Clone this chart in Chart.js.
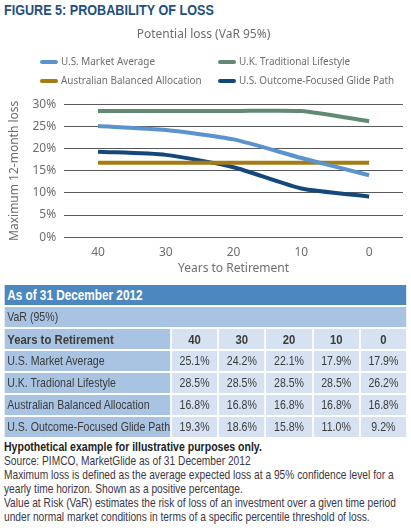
<!DOCTYPE html>
<html>
<head>
<meta charset="utf-8">
<script src="https://cdn.jsdelivr.net/npm/chart.js@4"></script>
<style>
  body { margin: 0; width: 411px; height: 532px; background: #fff; position: relative; overflow: hidden; font-family: "Liberation Sans", sans-serif; }
  .narrow { transform-origin: 0 0; }
  #title { position: absolute; left: 4px; top: 2px; font: bold 14px "Liberation Sans", sans-serif; color: #1f4f80; transform: scaleX(0.9); white-space: nowrap; }
  #chartBox { position: absolute; left: 0; top: 20px; width: 411px; height: 256px; }
  #legend { position: absolute; left: 40px; top: 53px; width: 370px; font: 11.5px "Noto Sans", sans-serif; color: #6d6e71; }
  .item { position: absolute; white-space: nowrap; }
  .item span.sw { display: inline-block; width: 18px; height: 4px; vertical-align: middle; margin-right: 3px; border-radius: 2px; }
  .item span.tx { display: inline-block; transform: scaleX(0.86); transform-origin: 0 50%; }
  #tableWrap { position: absolute; left: 3px; top: 283px; width: 482px; transform: scaleX(0.84); }
  table { width: 482px; table-layout: fixed; border-collapse: separate; border-spacing: 2px; font-size: 12.6px; color: #3b3b3b; }
  td { height: 20px; padding: 0 3px; white-space: nowrap; overflow: hidden; }
  .h1 td { background: #4d87c0; color: #fff; font-weight: bold; font-size: 14px; }
  .h2 td { background: #a9c4e3; }
  .h3 td { background: #d6e2f2; font-weight: bold; text-align: center; font-size: 13.5px; }
  .h3 td:first-child { background: #a9c4e3; text-align: left; }
  .row td { background: #d6e2f2; text-align: center; }
  .row td:first-child { background: #a9c4e3; text-align: left; }
  #notes { position: absolute; left: 4px; top: 440px; width: 500px; transform: scaleX(0.81); font-size: 12.6px; line-height: 14px; color: #3a3646; white-space: nowrap; }
  #notes b { color: #222; font-size: 13px; }
</style>
</head>
<body>
<div id="title" class="narrow">FIGURE 5: PROBABILITY OF LOSS</div>
<div id="chartBox"><canvas id="lossChart"></canvas></div>
<div id="legend"></div>
<div id="tableWrap" class="narrow"><table id="varTable"></table></div>
<div id="notes" class="narrow">
  <b>Hypothetical example for illustrative purposes only.</b><br>
  Source: PIMCO, MarketGlide as of 31 December 2012<br>
  Maximum loss is defined as the average expected loss at a 95% confidence level for a<br>
  yearly time horizon. Shown as a positive percentage.<br>
  Value at Risk (VaR) estimates the risk of loss of an investment over a given time period<br>
  under normal market conditions in terms of a specific percentile threshold of loss.
</div>
<script>
const years = ['40', '30', '20', '10', '0'];
const seriesNames = ['U.S. Market Average', 'U.K. Traditional Lifestyle', 'Australian Balanced Allocation', 'U.S. Outcome-Focused Glide Path'];
const tableNames = ['U.S. Market Average', 'U.K. Tradional Lifestyle', 'Australian Balanced Allocation', 'U.S. Outcome-Focused Glide Path'];

// values plotted in the chart
const usMarket = [25.1, 24.2, 22.1, 17.9, 14.0];
const ukLifestyle = [28.5, 28.5, 28.5, 28.5, 26.2];
const auBalanced = [16.8, 16.8, 16.8, 16.8, 16.8];
const usGlidePath = [19.3, 18.6, 15.8, 11.0, 9.2];

// values printed in the table
const usMarketTable = [25.1, 24.2, 22.1, 17.9, 17.9];
const ukLifestyleTable = [28.5, 28.5, 28.5, 28.5, 26.2];
const auBalancedTable = [16.8, 16.8, 16.8, 16.8, 16.8];
const usGlidePathTable = [19.3, 18.6, 15.8, 11.0, 9.2];

const yTicks = [0, 5, 10, 15, 20, 25, 30];
const colors = ['#5b93cd', '#628a73', '#a57b14', '#14477a'];

const chartText = '#6d6e71';
const series = [usMarket, ukLifestyle, auBalanced, usGlidePath];

const chart = new Chart(document.getElementById('lossChart'), {
    type: 'line',
    data: {
        labels: years,
        datasets: series.map((d, i) => ({
            label: seriesNames[i],
            data: d,
            borderColor: colors[i],
            backgroundColor: colors[i],
            borderWidth: 4,
            pointRadius: 0,
            tension: 0.2,
            fill: false,
        }))
    },
    options: {
        responsive: true,
        maintainAspectRatio: false,
        animation: false,
        layout: { padding: { left: 4, right: 8, top: 0, bottom: 0 } },
        plugins: {
            legend: { display: false },
            tooltip: { enabled: false },
            title: {
                display: true,
                text: 'Potential loss (VaR 95%)',
                color: chartText,
                font: { family: 'Noto Sans', size: 12, weight: 'normal' },
                padding: { top: 7, bottom: 63 },
            },
        },
        scales: {
            x: {
                offset: true,
                grid: { display: false },
                border: { display: false },
                ticks: { color: chartText, font: { family: 'Noto Sans', size: 12 }, padding: 0 },
                title: {
                    display: true,
                    text: 'Years to Retirement',
                    color: chartText,
                    font: { family: 'Noto Sans', size: 12 },
                    padding: { top: 2, bottom: 0 },
                },
            },
            y: {
                min: 0,
                max: 30,
                afterBuildTicks: axis => { axis.ticks = yTicks.map(v => ({ value: v })); },
                grid: { color: '#58595b', lineWidth: 1, drawTicks: false },
                border: { display: false },
                ticks: { color: chartText, font: { family: 'Noto Sans', size: 12 }, padding: 8, callback: v => v + '%' },
                title: {
                    display: true,
                    text: 'Maximum 12-month loss',
                    color: chartText,
                    font: { family: 'Noto Sans', size: 12 },
                    padding: 3,
                },
            }
        }
    }
});

// legend in two columns, built from the chart datasets
const legend = document.getElementById('legend');
chart.data.datasets.forEach((ds, i) => {
    const item = document.createElement('div');
    item.className = 'item';
    item.style.left = (i % 2 ? 178 : 0) + 'px';
    item.style.top = (i < 2 ? 0 : 19) + 'px';
    item.innerHTML = '<span class="sw" style="background:' + ds.borderColor + '"></span><span class="tx">' + ds.label + '</span>';
    legend.appendChild(item);
});

// table
const tableRows = [usMarketTable, ukLifestyleTable, auBalancedTable, usGlidePathTable];
let html = '<colgroup><col style="width:197px">' + years.map(() => '<col>').join('') + '</colgroup>';
html += '<tr class="h1"><td colspan="6">As of 31 December 2012</td></tr>';
html += '<tr class="h2"><td colspan="6">VaR (95%)</td></tr>';
html += '<tr class="h3"><td>Years to Retirement</td>' + years.map(y => '<td>' + y + '</td>').join('') + '</tr>';
tableRows.forEach((r, i) => {
    html += '<tr class="row"><td>' + tableNames[i] + '</td>' + r.map(v => '<td>' + v.toFixed(1) + '%</td>').join('') + '</tr>';
});
document.getElementById('varTable').innerHTML = html;
</script>
</body>
</html>
